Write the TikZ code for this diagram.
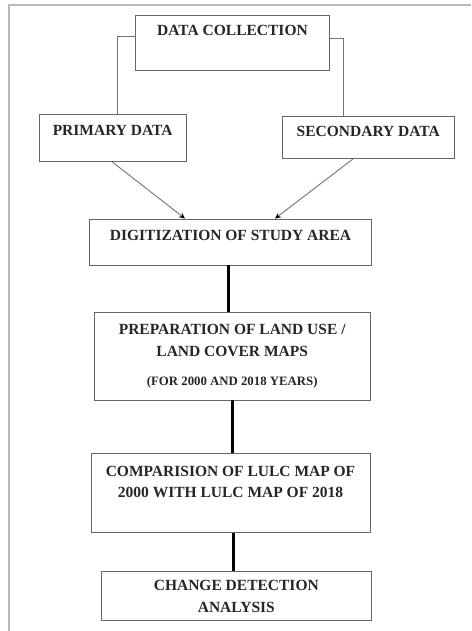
\documentclass[tikz,border=0pt]{standalone}
\usepackage{fontspec}
\setmainfont{Liberation Serif}
\usetikzlibrary{arrows.meta}
\begin{document}
\begin{tikzpicture}[x=1pt, y=-1pt,
  every node/.style={font=\bfseries\fontsize{15.5}{21.5}\selectfont, text=black!85},
  flowbox/.style={draw=black!60, line width=0.9pt, inner sep=0pt, align=center},
  onebox/.style={flowbox, text height=21pt},
  feed/.style={draw=black!55, line width=0.9pt, -{Stealth[length=6pt, width=5.5pt, black]}},
  link/.style={draw=black, line width=2.6pt}]
\useasboundingbox (0,0) rectangle (471,631);
% outer frame
\draw[gray!55, line width=1.6pt] (9,631) -- (9,5) -- (471,5);
% sources
\node[onebox, minimum width=194pt, text depth=34pt] (collect) at (232.5,42.5) {DATA COLLECTION};
\node[onebox, minimum width=146.7pt, text depth=25.7pt] (primary) at (112.7,137.7) {PRIMARY DATA};
\node[onebox, minimum width=171.3pt, text height=20.5pt, text depth=21.5pt] (secondary) at (368.3,137.5) {SECONDARY DATA};
% processing chain
\node[onebox, minimum width=282.4pt, text height=21.5pt, text depth=24.5pt] (digit) at (230.5,242) {DIGITIZATION OF STUDY AREA};
\node[flowbox, minimum width=275.7pt, minimum height=87.3pt] (prep) at (232.2,356.3)
  {PREPARATION OF LAND USE /\\LAND COVER MAPS\\[8pt]{\fontsize{12.8}{15}\selectfont (FOR 2000 AND 2018 YEARS)}};
\node[flowbox, minimum width=279pt, minimum height=79pt] (compare) at (230.5,492.8)
  {COMPARISION OF LULC MAP OF\\2000 WITH LULC MAP OF 2018\\\mbox{}};
\node[flowbox, minimum width=270.7pt, minimum height=49pt] (change) at (236.3,596.2)
  {CHANGE DETECTION\\ANALYSIS};
% connectors
\draw[feed, -] ([yshift=6.5pt]collect.west) -| ([xshift=4.6pt]primary.north);
\draw[feed, -] ([yshift=4.2pt]collect.east) -| ([xshift=-25pt]secondary.north);
\draw[feed] ([xshift=-1pt]primary.south) -- ([xshift=-45.5pt]digit.north);
\draw[feed] ([xshift=-15.3pt]secondary.south) -- ([xshift=44.5pt]digit.north);
\draw[link] ([xshift=-2.2pt]digit.south) -- ([xshift=-2.2pt]digit.south |- prep.north);
\draw[link] (prep.south) -- (prep.south |- compare.north);
\draw[link] ([xshift=2.8pt]compare.south) -- ([xshift=2.8pt]compare.south |- change.north);
\end{tikzpicture}
\end{document}
